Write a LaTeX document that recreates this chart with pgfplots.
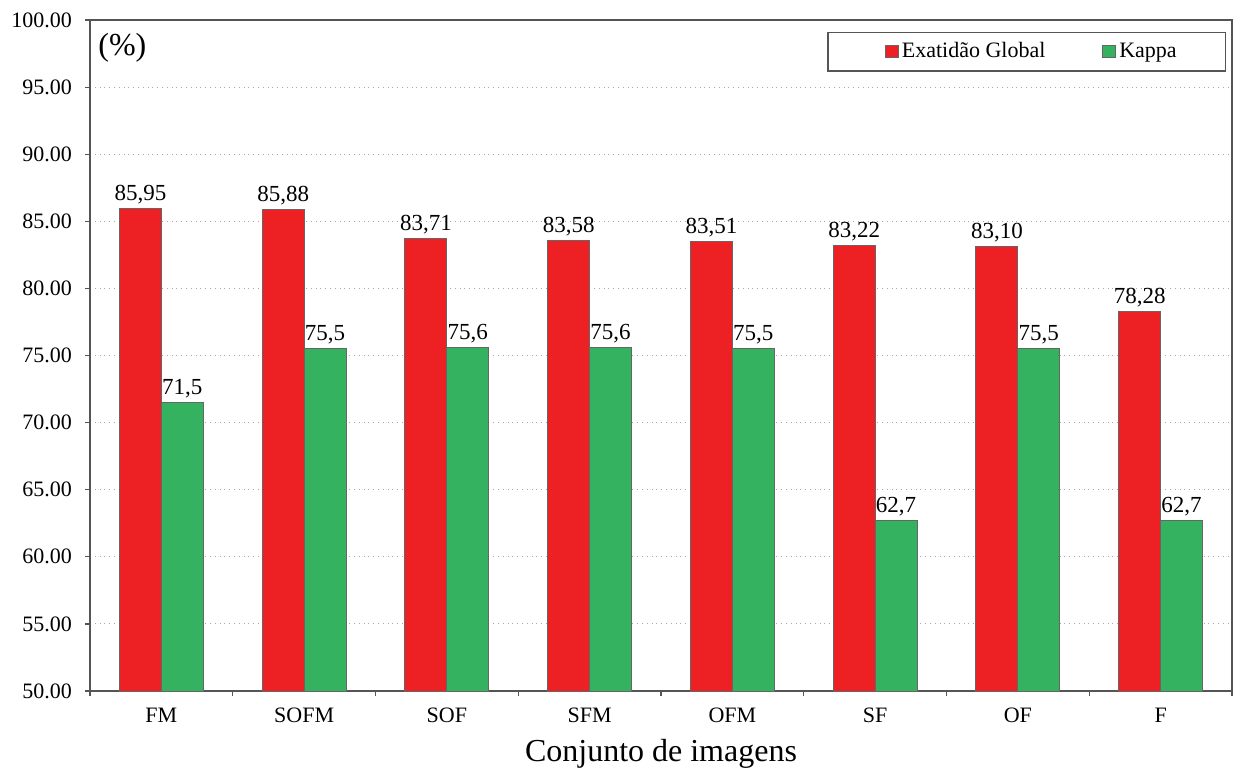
\documentclass[border=0pt]{standalone}
\usepackage{pgfplots}
\pgfplotsset{compat=1.18}
\usepackage{fontspec}
\setmainfont{Liberation Serif}
\definecolor{barred}{RGB}{237,32,36}
\definecolor{bargreen}{RGB}{52,178,96}
\definecolor{axisgray}{RGB}{85,85,85}
\begin{document}
\begin{tikzpicture}
\path[use as bounding box] (-45pt,-40pt) rectangle (577.5pt,345.5pt);
\begin{axis}[
  at={(0,0)}, anchor=south west,
  scale only axis, width=571pt, height=335.5pt,
  xmin=-0.5, xmax=7.5, ymin=50, ymax=100,
  ytick={50,55,...,100},
  xtick={-0.5,0.5,...,7.5}, xticklabels={},
  extra x ticks={0,1,2,3,4,5,6,7},
  extra x tick labels={FM,SOFM,SOF,SFM,OFM,SF,OF,F},
  extra x tick style={major tick length=0pt, grid=none, xticklabel style={yshift=-5pt}},
  tick align=outside, tick pos=left,
  major tick length=2.5pt,
  tick style={draw=axisgray, line width=0.6pt},
  axis line style={draw=axisgray, line width=0.8pt},
  ymajorgrids, grid style={dotted, gray!70, line width=0.5pt},
  /pgf/number format/assume math mode=true,
  yticklabel={\pgfmathprintnumber[fixed,fixed zerofill,precision=2]{\tick}},
  yticklabel style={xshift=-3pt},
  ticklabel style={font=\fontsize{11}{13}\selectfont},
  xlabel={Conjunto de imagens},
  xlabel style={font=\fontsize{16}{18}\selectfont, at={(axis description cs:0.5,0)}, anchor=base, yshift=-35pt},
  bar width=0.294,
  nodes near coords,
  point meta=explicit symbolic,
  every node near coord/.append style={font=\fontsize{11.5}{13}\selectfont, inner sep=2pt},
  legend columns=2,
  legend style={at={(0.995,0.982)}, anchor=north east, draw=axisgray, line width=0.6pt,
    inner xsep=23pt, inner ysep=3.5pt,
    font=\fontsize{11}{12}\selectfont,
    nodes={inner sep=1.5pt},
    /tikz/every even column/.append style={column sep=27pt}},
]
\addplot[ybar, bar shift=0pt, fill=barred, draw=black!60, line width=0.5pt,
  legend image code/.code={\path (-5.5pt,0pt); \draw[fill=barred,draw=black!60,line width=0.4pt] (0pt,-3pt) rectangle (6.5pt,3pt);}]
  table[x expr=\thisrow{x}-0.147, meta=l] {
x y l
0 85.95 85,95
1 85.88 85,88
2 83.71 83,71
3 83.58 83,58
4 83.51 83,51
5 83.22 83,22
6 83.10 83,10
7 78.28 78,28
};
\addlegendentry{Exatidão Global}
\addplot[ybar, bar shift=0pt, fill=bargreen, draw=black!60, line width=0.5pt,
  legend image code/.code={\draw[fill=bargreen,draw=black!60,line width=0.4pt] (0pt,-3pt) rectangle (6.5pt,3pt);}]
  table[x expr=\thisrow{x}+0.147, meta=l] {
x y l
0 71.5 71,5
1 75.5 75,5
2 75.6 75,6
3 75.6 75,6
4 75.5 75,5
5 62.7 62,7
6 75.5 75,5
7 62.7 62,7
};
\addlegendentry{Kappa}
\node[anchor=north west, inner sep=0pt, font=\fontsize{16}{18}\selectfont] at (rel axis cs:0,1) [xshift=4pt,yshift=-6.5pt] {(\%)};
\end{axis}
\end{tikzpicture}
\end{document}
